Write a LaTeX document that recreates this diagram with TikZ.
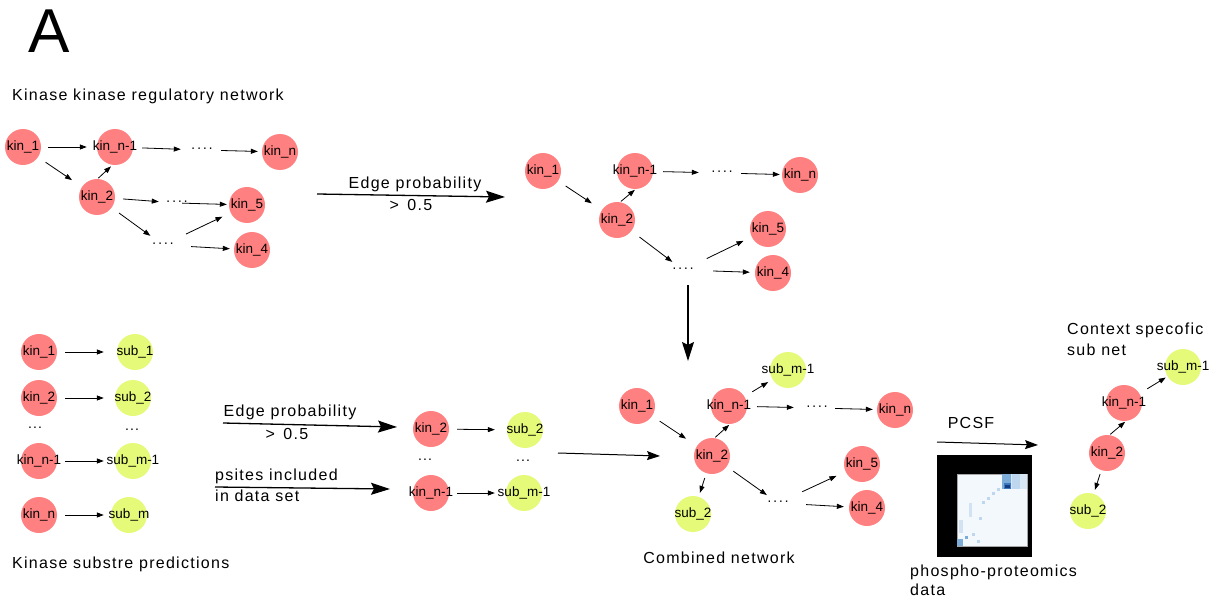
\documentclass[tikz,border=0pt]{standalone}
\usepackage{fontspec}
\setmainfont{Liberation Sans}[LetterSpace=8]
\newfontfamily\plainsans{Liberation Sans}
\usetikzlibrary{arrows.meta}
\definecolor{kinred}{RGB}{255,128,128}
\definecolor{subgrn}{RGB}{230,250,122}
\definecolor{hmb}{RGB}{190,214,238}
\definecolor{hmc}{RGB}{125,172,216}
\definecolor{hmd}{RGB}{60,120,190}
\definecolor{hme}{RGB}{20,60,130}
\definecolor{hmbg}{RGB}{243,248,253}
\newcommand\kfont{\plainsans\fontsize{13.5}{15}\selectfont}
\newcommand\dfont{\fontsize{14}{15}\selectfont}
\newcommand\tfont{\fontsize{16}{18}\selectfont}
\begin{document}
\begin{tikzpicture}[x=1pt,y=-1pt,
  kin/.style={circle,fill=kinred,minimum size=36pt,inner sep=0pt,
     label={[font=\kfont,inner sep=0pt]center:#1}},
  sub/.style={circle,fill=subgrn,minimum size=36pt,inner sep=0pt,
     label={[font=\kfont,inner sep=0pt]center:#1}},
  dts/.style={font=\dfont,inner sep=2pt},
  arr/.style={-{Triangle[length=7pt,width=5pt]},line width=0.8pt,shorten <=6pt,shorten >=8pt},
  bigarr/.style={-{Stealth[length=19pt,width=12pt,inset=3pt]},line width=1.3pt},
  medarr/.style={-{Stealth[length=13pt,width=9pt,inset=2pt]},line width=1pt},
  ttl/.style={font=\tfont,inner sep=0pt,anchor=west},
  ctl/.style={font=\tfont,inner sep=0pt}]

\useasboundingbox (0,0) rectangle (1226,604);
\fill[white] (0,0) rectangle (1226,604);

\node[font=\plainsans\fontsize{62}{62}\selectfont,inner sep=0pt,anchor=base] (lblA) at (49,53) {A};

% ---------- kinase kinase regulatory network ----------
\node[ttl] (ttl1) at (12,96) {Kinase kinase regulatory network};
\node[kin=kin\_1] (tl1) at (23,147) {};
\node[kin=kin\_n-1] (tln1) at (115,147) {};
\node[dts] (tld1) at (202,150) {····};
\node[kin=kin\_n] (tln) at (280,152) {};
\node[kin=kin\_2] (tl2) at (97,197) {};
\node[dts] (tld2) at (177,203) {····};
\node[kin=kin\_5] (tl5) at (247,205) {};
\node[dts] (tld3) at (163,245) {····};
\node[kin=kin\_4] (tl4) at (252,250) {};
\draw[arr,shorten <=7pt,shorten >=10pt] (tl1) -- (tln1);
\draw[arr,shorten <=9pt] (tln1) -- (tld1);
\draw[arr,shorten <=6pt,shorten >=4pt] (tld1) -- (tln);
\draw[arr,shorten <=9pt,shorten >=12pt] (tl1) -- (tl2);
\draw[arr,shorten <=1pt,shorten >=2pt] (tl2.88) -- (tln1.262);
\draw[arr,shorten <=8pt,shorten >=5pt] (tl2) -- (tld2);
\draw[arr,shorten <=-8pt,shorten >=2pt] (tld2) -- (tl5);
\draw[arr,shorten <=9pt,shorten >=8pt] (tl2) -- (tld3);
\draw[arr,shorten <=15pt,shorten >=9pt] (tld3) -- (tl5);
\draw[arr,shorten <=15pt,shorten >=4pt] (tld3) -- (tl4);

% ---------- filtered network ----------
\coordinate (ba1s) at (317,194);
\coordinate (ba1e) at (505,197);
\draw[bigarr] (ba1s) -- (ba1e);
\node[ctl] (ep1) at (415,184) {Edge probability};
\node[ctl] (gt1) at (411,205) {> \,0.5};

\node[kin=kin\_1] (tm1) at (543,171) {};
\node[kin=kin\_n-1] (tmn1) at (635,171) {};
\node[dts] (tmd1) at (722,173) {····};
\node[kin=kin\_n] (tmn) at (800,175) {};
\node[kin=kin\_2] (tm2) at (617,220) {};
\node[kin=kin\_5] (tm5) at (768,229) {};
\node[dts] (tmd2) at (683,270) {····};
\node[kin=kin\_4] (tm4) at (773,273) {};
\draw[arr,shorten <=9pt,shorten >=12pt] (tm1) -- (tm2);
\draw[arr,shorten <=1pt,shorten >=1pt] (tm2.80) -- (tmn1.272);
\draw[arr,shorten <=10pt,shorten >=10pt] (tmn1) -- (tmd1);
\draw[arr,shorten <=6pt,shorten >=2pt] (tmd1) -- (tmn);
\draw[arr,shorten <=10pt,shorten >=6pt] (tm2) -- (tmd2);
\draw[arr,shorten <=16pt,shorten >=9pt] (tmd2) -- (tm5);
\draw[arr,shorten <=17pt,shorten >=5pt] (tmd2) -- (tm4);

\coordinate (dA) at (688,285);
\coordinate (dB) at (688,361);
\draw[bigarr] (dA) -- (dB);

% ---------- kinase substrate predictions ----------
\node[kin=kin\_1] (bl1) at (39,352) {};
\node[sub=sub\_1] (bs1) at (135,352) {};
\node[kin=kin\_2] (bl2) at (39,398) {};
\node[sub=sub\_2] (bs2) at (133,398) {};
\node[dts] (bld1) at (35,428) {...};
\node[dts] (bld2) at (132,430) {...};
\node[kin=kin\_n-1] (bln1) at (39,461) {};
\node[sub=sub\_m-1] (bsm1) at (133,461) {};
\node[kin=kin\_n] (bln) at (39,515) {};
\node[sub=sub\_m] (bsm) at (129,515) {};
\draw[arr,shorten <=8pt,shorten >=13pt] (bl1) -- (bs1);
\draw[arr,shorten <=8pt,shorten >=11pt] (bl2) -- (bs2);
\draw[arr,shorten <=8pt,shorten >=11pt] (bln1) -- (bsm1);
\draw[arr,shorten <=8pt,shorten >=7pt] (bln) -- (bsm);
\node[ttl] (ttl2) at (12,564) {Kinase substre predictions};

% ---------- filtered predictions ----------
\coordinate (ba2s) at (223,423);
\coordinate (ba2e) at (397,427);
\draw[bigarr] (ba2s) -- (ba2e);
\node[ctl] (ep2) at (290,412) {Edge probability};
\node[ctl] (gt2) at (287,434) {> \,0.5};
\coordinate (ba3s) at (215,487);
\coordinate (ba3e) at (390,489);
\draw[bigarr] (ba3s) -- (ba3e);
\node[ttl] (ps1) at (215,476) {psites included};
\node[ttl] (ps2) at (215,496) {in data set};

\node[kin=kin\_2] (mb2) at (431,429) {};
\node[sub=sub\_2] (ms2) at (525,430) {};
\node[dts] (mbd1) at (425,460) {...};
\node[dts] (mbd2) at (523,461) {...};
\node[kin=kin\_n-1] (mbn1) at (431,493) {};
\node[sub=sub\_m-1] (msm1) at (524,493) {};
\draw[arr,shorten <=8pt,shorten >=12pt] (mb2) -- (ms2);
\draw[arr,shorten <=8pt,shorten >=11pt] (mbn1) -- (msm1);

\coordinate (ma1) at (558,453);
\coordinate (ma2) at (660,456);
\draw[medarr] (ma1) -- (ma2);

% ---------- combined network ----------
\node[kin=kin\_1] (c1) at (637,406) {};
\node[kin=kin\_n-1] (cn1) at (729,406) {};
\node[sub=sub\_m-1] (csm1) at (788,370) {};
\node[dts] (cd1) at (817,408) {····};
\node[kin=kin\_n] (cn) at (895,410) {};
\node[kin=kin\_2] (c2) at (712,456) {};
\node[kin=kin\_5] (c5) at (862,464) {};
\node[dts] (cd2) at (778,503) {····};
\node[kin=kin\_4] (c4) at (867,508) {};
\node[sub=sub\_2] (cs2) at (693,514) {};
\draw[arr,shorten <=9pt,shorten >=13pt] (c1) -- (c2);
\draw[arr,shorten <=1pt,shorten >=1pt] (c2.82) -- (cn1.273);
\draw[arr,shorten <=9pt,shorten >=5pt] (cn1) -- (csm1);
\draw[arr,shorten <=10pt,shorten >=10pt] (cn1) -- (cd1);
\draw[arr,shorten <=5pt,shorten >=4pt] (cd1) -- (cn);
\draw[arr,shorten <=5pt,shorten >=4pt] (c2) -- (cs2);
\draw[arr,shorten <=8pt,shorten >=6pt] (c2) -- (cd2);
\draw[arr,shorten <=16pt,shorten >=10pt] (cd2) -- (c5);
\draw[arr,shorten <=15pt,shorten >=5pt] (cd2) -- (c4);
\node[ctl] (cnt) at (719,558) {Combined network};

% ---------- PCSF ----------
\node[ctl] (pcsf) at (971,423) {PCSF};
\coordinate (pa1) at (937,442);
\coordinate (pa2) at (1038,445);
\draw[medarr] (pa1) -- (pa2);

\fill[black] (937,455) rectangle (1032,557);
\fill[hmbg,draw=gray!70,line width=0.5pt] (957,474) rectangle (1027,546);
\fill[hmb!60] (1002,474) rectangle (1027,489);
\fill[hmb] (1012,474) rectangle (1020,489);
\fill[hmc] (1002,474) rectangle (1011,489);
\fill[hmd] (1004,483) rectangle (1011,489);
\fill[hme] (1005,485) rectangle (1010,488);
\fill[hmb] (997,488) rectangle (1000,491);
\fill[hmb] (992,492) rectangle (995,495);
\fill[hmb] (987,497) rectangle (990,500);
\fill[hmb] (982,501) rectangle (985,504);
\fill[hmb!70] (969,503) rectangle (972,517);
\fill[hmb] (979,517) rectangle (982,520);
\fill[hmb!70] (959,520) rectangle (963,533);
\fill[hmc] (965,536) rectangle (968,539);
\fill[hmb] (972,533) rectangle (975,536);
\fill[hmb] (977,540) rectangle (980,543);
\fill[hmc] (957,539) rectangle (963,546);

\node[ttl] (pp1) at (910,572) {phospho-proteomics};
\node[ttl] (pp2) at (910,590) {data};

% ---------- context specific subnet ----------
\node[ttl] (cs1) at (1067,330) {Context specofic};
\node[ttl] (cs2t) at (1067,350) {sub net};
\node[sub=sub\_m-1] (rsm1) at (1183,367) {};
\node[kin=kin\_n-1] (rn1) at (1124,403) {};
\node[kin=kin\_2] (r2) at (1107,453) {};
\node[sub=sub\_2] (rs2) at (1088,511) {};
\draw[arr,shorten <=9pt,shorten >=2pt] (rn1) -- (rsm1);
\draw[arr,shorten <=1pt,shorten >=1pt] (r2.82) -- (rn1.276);
\draw[arr,shorten <=4pt,shorten >=4pt] (r2) -- (rs2);
\end{tikzpicture}
\end{document}
